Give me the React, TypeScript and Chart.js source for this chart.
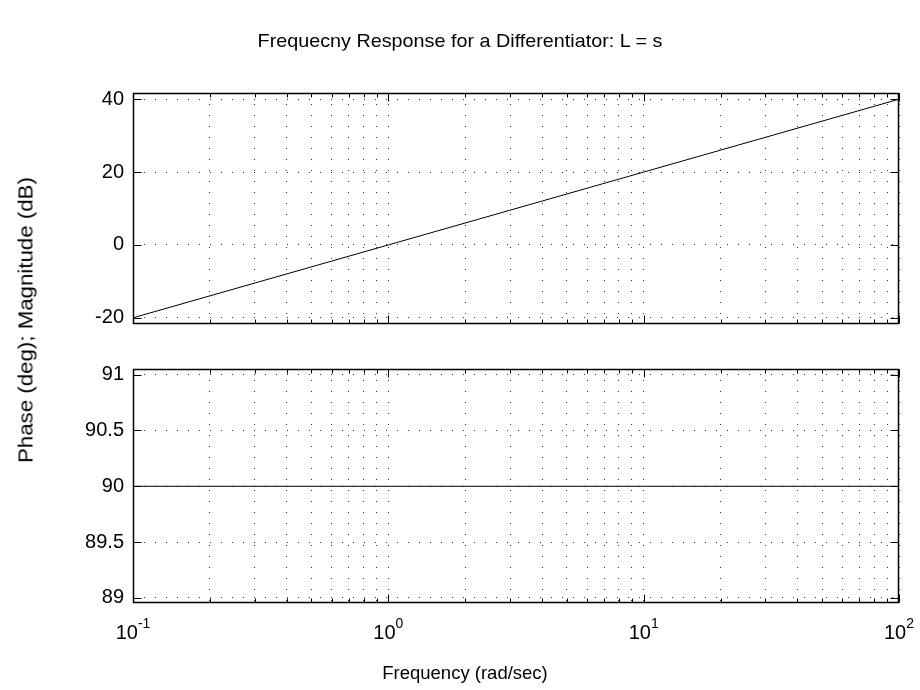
import React, { useEffect, useRef } from "react";
import { Chart, registerables } from "chart.js";

Chart.register(...registerables);

// ---- data ----
const frequency = [0.1, 1, 10, 100];
const magnitudeDb = [-20, 0, 20, 40];
const phaseDeg = [90, 90, 90, 90];

const magTicks = [-20, 0, 20, 40];
const phaseTicks = [89, 89.5, 90, 90.5, 91];
const magRange = [-21.7, 41.7];
const phaseRange = [88.955, 91.05];
const freqRange = [0.1, 100];

const decadeTicks = [0.1, 1, 10, 100];
const decadeExponents = ["-1", "0", "1", "2"];
const freqGridTicks = [
  0.1, 0.2, 0.3, 0.4, 0.5, 0.6, 0.7, 0.8, 0.9,
  1, 2, 3, 4, 5, 6, 7, 8, 9,
  10, 20, 30, 40, 50, 60, 70, 80, 90,
  100,
];

const titleText = "Frequecny Response for a Differentiator: L = s";
const yLabelText = "Phase (deg); Magnitude (dB)";
const xLabelText = "Frequency (rad/sec)";

const FONT = "'Liberation Sans', Arial, Helvetica, sans-serif";
const W = 920;
const H = 345;

const boxPlugin = {
  id: "matlabBox",
  afterDatasetsDraw(chart: any) {
    const { ctx, chartArea: a } = chart;
    const xs = chart.scales.x;
    const ys = chart.scales.y;
    const L = Math.round(a.left) + 0.5;
    const R = Math.round(a.right) - 0.5;
    const T = Math.round(a.top) + 0.5;
    const B = Math.round(a.bottom) - 0.5;
    ctx.save();
    ctx.strokeStyle = "#000";
    ctx.lineWidth = 1;
    ctx.beginPath();
    // inward ticks on x (top & bottom)
    for (const v of freqGridTicks) {
      const px = Math.round(xs.getPixelForValue(v)) + 0.5;
      const len = decadeTicks.includes(v) ? 8 : 4;
      ctx.moveTo(px, B);
      ctx.lineTo(px, B - len);
      ctx.moveTo(px, T);
      ctx.lineTo(px, T + len);
    }
    // inward ticks on y (left & right)
    for (const t of ys.ticks) {
      const py = Math.round(ys.getPixelForValue(t.value)) + 0.5;
      ctx.moveTo(L, py);
      ctx.lineTo(L + 8, py);
      ctx.moveTo(R, py);
      ctx.lineTo(R - 8, py);
    }
    ctx.stroke();
    ctx.lineWidth = 1.5;
    ctx.strokeRect(L, T, R - L, B - T);
    ctx.restore();
  },
};

const decadeLabelPlugin = {
  id: "decadeLabels",
  afterDraw(chart: any) {
    const opts = chart.options.plugins.decadeLabels;
    if (!opts || !opts.show) return;
    const { ctx } = chart;
    const xs = chart.scales.x;
    const base = chart.chartArea.bottom + opts.offset;
    ctx.save();
    ctx.fillStyle = "#000";
    ctx.textBaseline = "alphabetic";
    ctx.textAlign = "left";
    decadeTicks.forEach((v, i) => {
      const px = xs.getPixelForValue(v);
      ctx.font = `20px ${FONT}`;
      const w10 = ctx.measureText("10").width;
      ctx.font = `14px ${FONT}`;
      const we = ctx.measureText(decadeExponents[i]).width;
      const x0 = px - (w10 + we) / 2;
      ctx.font = `20px ${FONT}`;
      ctx.fillText("10", x0, base);
      ctx.font = `14px ${FONT}`;
      ctx.fillText(decadeExponents[i], x0 + w10, base - 11);
    });
    ctx.restore();
  },
};

function makeConfig(
  values: number[],
  range: number[],
  ticks: number[],
  padTop: number,
  padBottom: number,
  showDecades: boolean
): any {
  return {
    type: "line",
    data: {
      datasets: [
        {
          data: frequency.map((f, i) => ({ x: f, y: values[i] })),
          borderColor: "#000",
          borderWidth: 1,
          pointRadius: 0,
          fill: false,
          tension: 0,
        },
      ],
    },
    options: {
      responsive: false,
      animation: false,
      events: [],
      layout: { padding: { top: padTop, bottom: padBottom, left: 0, right: 21 } },
      plugins: {
        legend: { display: false },
        tooltip: { enabled: false },
        title: { display: false },
        decadeLabels: { show: showDecades, offset: 36 },
      },
      scales: {
        x: {
          type: "logarithmic",
          min: freqRange[0],
          max: freqRange[1],
          afterBuildTicks: (s: any) => {
            s.ticks = freqGridTicks.map((v) => ({ value: v }));
          },
          afterFit: (s: any) => {
            s.height = 0;
          },
          ticks: { display: false },
          grid: { color: "#333", lineWidth: 1, drawTicks: false },
          border: { display: false, dash: [1, 10] },
        },
        y: {
          type: "linear",
          min: range[0],
          max: range[1],
          afterBuildTicks: (s: any) => {
            s.ticks = ticks.map((v) => ({ value: v }));
          },
          afterFit: (s: any) => {
            s.width = 133;
          },
          ticks: {
            color: "#000",
            padding: 9,
            font: { family: FONT, size: 20 },
            callback: (v: any) => String(v),
          },
          grid: { color: "#333", lineWidth: 1, drawTicks: false },
          border: { display: false, dash: [1, 10] },
        },
      },
    },
    plugins: [boxPlugin, decadeLabelPlugin],
  };
}

function App() {
  const topRef = useRef<HTMLCanvasElement | null>(null);
  const botRef = useRef<HTMLCanvasElement | null>(null);

  useEffect(() => {
    const c1 = new Chart(
      topRef.current as HTMLCanvasElement,
      makeConfig(magnitudeDb, magRange, magTicks, 93, H - 327, false)
    );
    const c2 = new Chart(
      botRef.current as HTMLCanvasElement,
      makeConfig(phaseDeg, phaseRange, phaseTicks, 369 - H, 2 * H - 603, true)
    );
    return () => {
      c1.destroy();
      c2.destroy();
    };
  }, []);

  const textBase: React.CSSProperties = {
    position: "absolute",
    fontFamily: FONT,
    color: "#000",
    whiteSpace: "nowrap",
    lineHeight: 1,
  };

  return (
    <div
      style={{
        position: "absolute",
        left: 0,
        top: 0,
        width: W,
        height: 2 * H,
        background: "#fff",
        overflow: "hidden",
      }}
    >
      <canvas
        ref={topRef}
        width={W}
        height={H}
        style={{ position: "absolute", left: 0, top: 0, width: W, height: H }}
      />
      <canvas
        ref={botRef}
        width={W}
        height={H}
        style={{ position: "absolute", left: 0, top: H, width: W, height: H }}
      />
      <div
        style={{
          ...textBase,
          left: 460,
          top: 40,
          fontSize: 19,
          transform: "translate(-50%, -50%) scaleX(1.04)",
        }}
      >
        {titleText}
      </div>
      <div
        style={{
          ...textBase,
          left: 25,
          top: 320,
          fontSize: 21,
          transform: "translate(-50%, -50%) rotate(-90deg) scaleX(1.06)",
        }}
      >
        {yLabelText}
      </div>
      <div
        style={{
          ...textBase,
          left: 465,
          top: 673,
          fontSize: 18.5,
          transform: "translate(-50%, -50%)",
        }}
      >
        {xLabelText}
      </div>
    </div>
  );
}

export default App;
